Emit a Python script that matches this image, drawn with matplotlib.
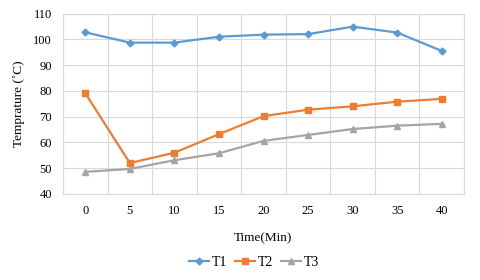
import numpy as np
import matplotlib.pyplot as plt

plt.rcParams['font.family'] = ['Liberation Serif', 'DejaVu Serif']

time = [0, 5, 10, 15, 20, 25, 30, 35, 40]
t1 = [102.7, 98.7, 98.7, 101.0, 101.8, 102.0, 104.9, 102.6, 95.5]
t2 = [79.1, 52.0, 56.0, 63.2, 70.2, 72.7, 74.0, 75.8, 76.9]
t3 = [48.6, 49.7, 53.1, 55.8, 60.6, 62.9, 65.2, 66.5, 67.2]

fig = plt.figure(figsize=(4.8, 2.8), dpi=100)
ax = fig.add_axes([63 / 480, 1 - 194 / 280, 401 / 480, 180.5 / 280])

x = np.arange(len(time))
ax.plot(x, t1, color='#5B9BD5', marker='D', ms=3.5, lw=1.6, label='T1')
ax.plot(x, t2, color='#ED7D31', marker='s', ms=4, lw=1.6, label='T2')
ax.plot(x, t3, color='#A5A5A5', marker='^', ms=4, lw=1.6, label='T3')

ax.set_xlim(-0.5, len(time) - 0.5)
ax.set_ylim(40, 110)
ax.set_yticks(np.arange(40, 111, 10))
ax.set_xticks(x)
ax.set_xticklabels([str(t) for t in time])
ax.set_xticks(np.arange(-0.5, len(time), 1), minor=True)
ax.grid(True, which='minor', axis='x', color='#D9D9D9', lw=0.8)
ax.grid(True, which='major', axis='y', color='#D9D9D9', lw=0.8)
ax.tick_params(which='both', length=0, labelsize=9, pad=8)
for s in ax.spines.values():
    s.set_color('#D9D9D9')
    s.set_linewidth(0.8)

ax.set_xlabel('Time(Min)', fontsize=9.5, labelpad=11)
ax.set_ylabel('Temprature (˚C)', fontsize=9.5, labelpad=6)

fig.legend(loc='center', bbox_to_anchor=(254 / 480, 1 - 262 / 280), ncol=3,
           frameon=False, fontsize=10, handlelength=1.5, columnspacing=0.5,
           handletextpad=0.2)

fig.savefig('out.png', dpi=100)
